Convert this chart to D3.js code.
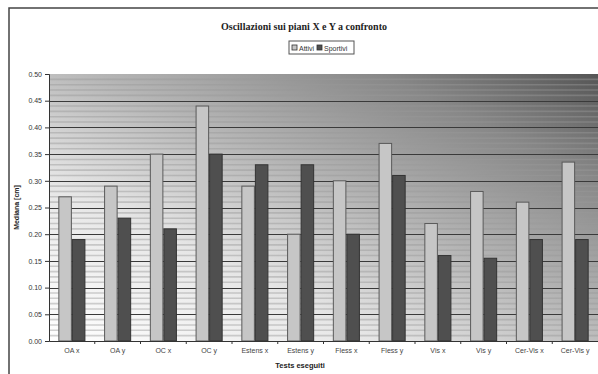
<!DOCTYPE html>
<html>
<head>
<meta charset="utf-8">
<script src="https://cdn.jsdelivr.net/npm/d3@7"></script>
<style>
  html, body { margin: 0; padding: 0; background: #fff; }
  svg { display: block; }
</style>
</head>
<body>
<svg id="chart" width="598" height="374"></svg>
<script>
// Median oscillation per test, two groups
const categories = ["OA x", "OA y", "OC x", "OC y", "Estens x", "Estens y",
                    "Fless x", "Fless y", "Vis x", "Vis y", "Cer-Vis x", "Cer-Vis y"];
const seriesNames = ["Attivi", "Sportivi"];
const attivi   = [0.27, 0.29, 0.35, 0.44, 0.29, 0.20, 0.30, 0.37, 0.22, 0.28, 0.26, 0.335];
const sportivi = [0.19, 0.23, 0.21, 0.35, 0.33, 0.33, 0.20, 0.31, 0.16, 0.155, 0.19, 0.19];
const yTicks = [0, 0.05, 0.10, 0.15, 0.20, 0.25, 0.30, 0.35, 0.40, 0.45, 0.50];

const seriesValues = { "Attivi": attivi, "Sportivi": sportivi };
const fills   = { "Attivi": "#c6c6c6", "Sportivi": "#4f4f4f" };
const strokes = { "Attivi": "#5a5a5a", "Sportivi": "#333" };

const svg = d3.select("#chart");
const W = 598, H = 374;
const plot = { left: 49, top: 74, right: 598, bottom: 341 };

// Outer chart frame
svg.append("rect")
  .attr("x", 9).attr("y", 8).attr("width", W + 10).attr("height", H + 10)
  .attr("fill", "#fff").attr("stroke", "#444").attr("stroke-width", 1.5);

const defs = svg.append("defs");
const grad = defs.append("linearGradient").attr("id", "bg")
  .attr("x1", 0).attr("y1", 1).attr("x2", 1).attr("y2", 0);
[[0, "#ffffff"], [0.3, "#e6e6e6"], [0.55, "#b4b4b4"], [0.8, "#888"], [1, "#555"]]
  .forEach(([o, c]) => grad.append("stop").attr("offset", o).attr("stop-color", c));

const x0 = d3.scaleBand().domain(categories).range([plot.left, plot.right]).padding(0);
const x1 = d3.scaleBand().domain(seriesNames).range([0, x0.bandwidth()])
  .paddingInner(0).paddingOuter(0.69);
const y = d3.scaleLinear().domain([0, 0.5]).range([plot.bottom, plot.top]);

// Plot background
svg.append("rect")
  .attr("x", plot.left).attr("y", plot.top)
  .attr("width", plot.right - plot.left).attr("height", plot.bottom - plot.top)
  .attr("fill", "url(#bg)");

// Fine horizontal stripes
const stripes = d3.range(1, 50).map(i => i * 0.01).filter(v => Math.round(v * 100) % 5 !== 0);
svg.append("g").selectAll("line").data(stripes).join("line")
  .attr("x1", plot.left).attr("x2", plot.right)
  .attr("y1", d => y(d)).attr("y2", d => y(d))
  .attr("stroke", "#9a9a9a").attr("stroke-opacity", 0.45).attr("stroke-width", 1.6);

// Major gridlines
svg.append("g").selectAll("line").data(yTicks.filter(v => v > 0 && v < 0.5)).join("line")
  .attr("x1", plot.left).attr("x2", plot.right)
  .attr("y1", d => Math.round(y(d)) + 0.5).attr("y2", d => Math.round(y(d)) + 0.5)
  .attr("stroke", "#3a3a3a").attr("stroke-width", 1);

// Bars
const groups = svg.append("g").selectAll("g").data(categories).join("g")
  .attr("transform", d => `translate(${x0(d)},0)`);
groups.selectAll("rect")
  .data((c, i) => seriesNames.map(s => ({ s, v: seriesValues[s][i] })))
  .join("rect")
  .attr("x", d => x1(d.s) + 0.5)
  .attr("y", d => y(d.v))
  .attr("width", x1.bandwidth() - 1)
  .attr("height", d => y(0) - y(d.v))
  .attr("fill", d => fills[d.s])
  .attr("stroke", d => strokes[d.s]).attr("stroke-width", 1);

// Y axis
const yAxis = svg.append("g").attr("transform", `translate(${plot.left},0)`)
  .call(d3.axisLeft(y).tickValues(yTicks).tickFormat(d3.format(".2f")).tickSize(4).tickPadding(3));
yAxis.select(".domain").attr("stroke", "#333");
yAxis.selectAll(".tick line").attr("stroke", "#333");
yAxis.selectAll("text").attr("font-family", "Liberation Sans, Arial, sans-serif")
  .attr("font-size", 7).attr("fill", "#333");

// X axis
const xAxis = svg.append("g").attr("transform", `translate(0,${plot.bottom})`)
  .call(d3.axisBottom(x0).tickSize(0).tickPadding(7));
xAxis.select(".domain").attr("stroke", "#333");
xAxis.selectAll("text").attr("font-family", "Liberation Sans, Arial, sans-serif")
  .attr("font-size", 7).attr("fill", "#444");
svg.append("g").selectAll("line").data(categories.slice(1)).join("line")
  .attr("x1", d => x0(d)).attr("x2", d => x0(d))
  .attr("y1", plot.bottom).attr("y2", plot.bottom + 3)
  .attr("stroke", "#333");

// Titles
svg.append("text").attr("x", 304).attr("y", 30).attr("text-anchor", "middle")
  .attr("font-family", "Liberation Serif, Times New Roman, serif")
  .attr("font-weight", "bold").attr("font-size", 10).attr("fill", "#222")
  .text("Oscillazioni sui piani X e Y a confronto");

svg.append("text").attr("x", 300).attr("y", 368).attr("text-anchor", "middle")
  .attr("font-family", "Liberation Sans, Arial, sans-serif")
  .attr("font-weight", "bold").attr("font-size", 7.5).attr("fill", "#222")
  .text("Tests eseguiti");

svg.append("text")
  .attr("transform", `translate(19,${(plot.top + plot.bottom) / 2}) rotate(-90)`)
  .attr("text-anchor", "middle")
  .attr("font-family", "Liberation Sans, Arial, sans-serif")
  .attr("font-weight", "bold").attr("font-size", 7).attr("fill", "#222")
  .text("Mediana [cm]");

// Legend
const legend = svg.append("g").attr("transform", "translate(289,41)");
legend.append("rect").attr("x", 0).attr("y", 0).attr("width", 65).attr("height", 13)
  .attr("fill", "#fff").attr("stroke", "#555").attr("stroke-width", 1);
const legX = [3, 28];
seriesNames.forEach((s, i) => {
  legend.append("rect").attr("x", legX[i]).attr("y", 4).attr("width", 5).attr("height", 5)
    .attr("fill", fills[s]).attr("stroke", "#333").attr("stroke-width", 0.8);
  legend.append("text").attr("x", legX[i] + 7).attr("y", 9.5)
    .attr("font-family", "Liberation Sans, Arial, sans-serif")
    .attr("font-size", 7).attr("fill", "#333").text(s);
});
</script>
</body>
</html>
